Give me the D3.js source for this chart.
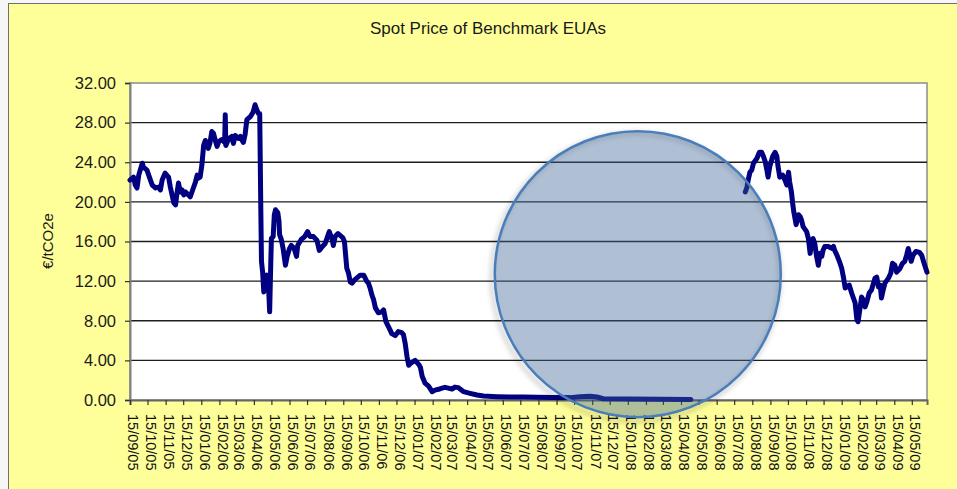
<!DOCTYPE html>
<html>
<head>
<meta charset="utf-8">
<script src="https://cdn.jsdelivr.net/npm/d3@7"></script>
<style>
    body { margin: 0; background: #ffffff; }
    #chart { width: 957px; height: 489px; }
</style>
</head>
<body>
<div id="chart"></div>
<script>
// Phase I spot prices (EUR/tCO2e)
const phaseIDates = [
    "2005-09-15", "2005-09-17", "2005-09-21", "2005-09-24", "2005-09-27", "2005-09-30", "2005-10-06", "2005-10-08",
    "2005-10-14", "2005-10-17", "2005-10-20", "2005-10-23", "2005-10-29", "2005-11-03", "2005-11-06", "2005-11-09",
    "2005-11-14", "2005-11-20", "2005-11-23", "2005-11-26", "2005-11-29", "2005-12-02", "2005-12-04", "2005-12-07",
    "2005-12-10", "2005-12-13", "2005-12-16", "2005-12-19", "2005-12-24", "2005-12-27", "2005-12-30", "2006-01-02",
    "2006-01-05", "2006-01-08", "2006-01-10", "2006-01-13", "2006-01-16", "2006-01-19", "2006-01-22", "2006-01-25",
    "2006-01-27", "2006-01-30", "2006-02-02", "2006-02-05", "2006-02-08", "2006-02-11", "2006-02-14", "2006-02-19",
    "2006-02-24", "2006-02-25", "2006-02-26", "2006-03-03", "2006-03-08", "2006-03-11", "2006-03-14", "2006-03-20",
    "2006-03-23", "2006-03-26", "2006-03-28", "2006-03-31", "2006-04-03", "2006-04-09", "2006-04-14", "2006-04-17",
    "2006-04-20", "2006-04-23", "2006-04-25", "2006-04-27", "2006-04-28", "2006-04-30", "2006-05-02", "2006-05-05",
    "2006-05-07", "2006-05-10", "2006-05-12", "2006-05-14", "2006-05-15", "2006-05-18", "2006-05-20", "2006-05-22",
    "2006-05-26", "2006-05-28", "2006-05-29", "2006-06-01", "2006-06-04", "2006-06-08", "2006-06-11", "2006-06-15",
    "2006-06-18", "2006-06-23", "2006-06-27", "2006-06-29", "2006-07-05", "2006-07-11", "2006-07-16", "2006-07-20",
    "2006-07-26", "2006-08-01", "2006-08-05", "2006-08-09", "2006-08-15", "2006-08-22", "2006-08-27", "2006-08-29",
    "2006-09-01", "2006-09-06", "2006-09-10", "2006-09-14", "2006-09-17", "2006-09-21", "2006-09-24", "2006-09-27",
    "2006-09-30", "2006-10-04", "2006-10-08", "2006-10-14", "2006-10-20", "2006-10-25", "2006-10-28", "2006-10-31",
    "2006-11-03", "2006-11-06", "2006-11-09", "2006-11-14", "2006-11-20", "2006-11-23", "2006-11-27", "2006-12-03",
    "2006-12-07", "2006-12-13", "2006-12-18", "2006-12-24", "2006-12-27", "2006-12-30", "2007-01-02", "2007-01-05",
    "2007-01-08", "2007-01-16", "2007-01-22", "2007-01-25", "2007-01-28", "2007-02-02", "2007-02-08", "2007-02-14",
    "2007-02-19", "2007-02-25", "2007-03-03", "2007-03-08", "2007-03-14", "2007-03-20", "2007-03-25", "2007-03-31",
    "2007-04-03", "2007-04-09", "2007-04-20", "2007-05-02", "2007-05-13", "2007-06-05", "2007-06-28", "2007-07-20",
    "2007-08-12", "2007-09-09", "2007-10-08", "2007-10-25", "2007-11-11", "2007-11-23", "2007-12-04", "2008-01-19",
    "2008-03-10", "2008-05-02"
];
const phaseIPrices = [
    22.2, 22.3, 22.5, 21.7, 21.4, 22.7, 23.9, 23.5,
    23.2, 22.7, 22.2, 21.7, 21.4, 21.5, 21.2, 22.2,
    22.9, 22.5, 21.5, 20.7, 19.9, 19.7, 20.7, 21.9,
    21.0, 21.2, 20.7, 21.0, 20.7, 20.5, 21.0, 21.5,
    22.0, 22.7, 22.4, 22.5, 23.7, 25.7, 26.2, 25.9,
    25.4, 26.0, 27.1, 26.9, 26.2, 25.6, 26.1, 26.3,
    26.0, 28.8, 25.7, 26.4, 26.6, 25.9, 26.7, 26.4,
    26.6, 26.2, 26.0, 26.8, 28.3, 28.6, 29.1, 29.8,
    29.3, 28.9, 28.9, 18.7, 14.0, 12.9, 10.9, 12.3,
    12.6, 11.6, 8.9, 14.0, 16.3, 16.5, 18.7, 19.2,
    18.9, 18.0, 16.7, 16.2, 15.3, 13.6, 14.5, 15.3,
    15.6, 15.3, 14.5, 15.6, 16.2, 16.5, 17.0, 16.5,
    16.5, 16.1, 15.1, 15.4, 15.8, 17.0, 16.2, 15.6,
    16.5, 16.8, 16.6, 16.4, 16.0, 13.3, 12.8, 11.9,
    11.8, 12.1, 12.3, 12.6, 12.6, 12.0, 11.8, 11.3,
    10.6, 10.1, 9.3, 8.8, 8.9, 9.1, 7.9, 7.2,
    6.7, 6.5, 6.9, 6.8, 6.6, 5.7, 4.4, 3.5,
    3.7, 4.0, 3.6, 3.3, 2.4, 1.7, 1.4, 0.84,
    1.0, 1.08, 1.2, 1.28, 1.2, 1.1, 1.3, 1.25,
    1.1, 0.84, 0.67, 0.5, 0.4, 0.34, 0.3, 0.3,
    0.27, 0.24, 0.24, 0.33, 0.38, 0.3, 0.13, 0.1,
    0.08, 0.05
];

// Phase II spot prices (EUR/tCO2e)
const phaseIIDates = [
    "2008-08-03", "2008-08-06", "2008-08-08", "2008-08-11", "2008-08-14", "2008-08-17", "2008-08-23", "2008-08-27",
    "2008-08-31", "2008-09-03", "2008-09-06", "2008-09-09", "2008-09-11", "2008-09-14", "2008-09-19", "2008-09-23",
    "2008-09-26", "2008-09-28", "2008-10-01", "2008-10-06", "2008-10-10", "2008-10-13", "2008-10-16", "2008-10-18",
    "2008-10-21", "2008-10-23", "2008-10-25", "2008-10-29", "2008-11-02", "2008-11-05", "2008-11-07", "2008-11-10",
    "2008-11-16", "2008-11-19", "2008-11-22", "2008-11-25", "2008-11-27", "2008-11-30", "2008-12-03", "2008-12-06",
    "2008-12-09", "2008-12-12", "2008-12-14", "2008-12-17", "2008-12-23", "2008-12-29", "2009-01-01", "2009-01-03",
    "2009-01-07", "2009-01-11", "2009-01-15", "2009-01-18", "2009-01-21", "2009-01-23", "2009-01-28", "2009-02-01",
    "2009-02-04", "2009-02-07", "2009-02-10", "2009-02-12", "2009-02-15", "2009-02-18", "2009-02-21", "2009-02-24",
    "2009-02-27", "2009-03-03", "2009-03-07", "2009-03-13", "2009-03-16", "2009-03-19", "2009-03-22", "2009-03-24",
    "2009-03-27", "2009-03-30", "2009-04-05", "2009-04-09", "2009-04-12", "2009-04-16", "2009-04-19", "2009-04-25",
    "2009-04-29", "2009-05-03", "2009-05-06", "2009-05-09", "2009-05-12", "2009-05-14", "2009-05-17", "2009-05-22",
    "2009-05-28", "2009-06-01", "2009-06-05", "2009-06-10"
];
const phaseIIPrices = [
    21.0, 21.5, 22.2, 23.0, 23.2, 23.9, 24.4, 25.0,
    25.0, 24.6, 24.1, 23.2, 22.5, 23.6, 24.6, 25.0,
    24.6, 23.6, 22.5, 22.7, 22.2, 21.7, 23.0, 22.0,
    21.0, 19.9, 19.0, 17.7, 18.7, 18.5, 18.2, 17.5,
    17.0, 16.3, 14.8, 16.0, 16.3, 15.8, 14.5, 13.6,
    14.8, 14.5, 15.1, 15.5, 15.5, 15.3, 15.5, 15.1,
    14.6, 14.0, 13.3, 12.4, 11.3, 11.4, 11.6, 10.8,
    10.3, 9.8, 8.1, 7.9, 9.1, 10.4, 10.1, 9.4,
    9.9, 10.8, 11.1, 12.3, 12.4, 11.4, 11.6, 10.3,
    11.1, 11.8, 12.3, 12.8, 13.8, 13.6, 12.9, 13.3,
    13.8, 14.0, 14.6, 15.3, 14.5, 14.0, 14.6, 15.0,
    14.9, 14.6, 13.8, 12.9
];

// Axis labels
const xTickLabels = [
    "15/09/05", "15/10/05", "15/11/05", "15/12/05", "15/01/06", "15/02/06", "15/03/06", "15/04/06",
    "15/05/06", "15/06/06", "15/07/06", "15/08/06", "15/09/06", "15/10/06", "15/11/06", "15/12/06",
    "15/01/07", "15/02/07", "15/03/07", "15/04/07", "15/05/07", "15/06/07", "15/07/07", "15/08/07",
    "15/09/07", "15/10/07", "15/11/07", "15/12/07", "15/01/08", "15/02/08", "15/03/08", "15/04/08",
    "15/05/08", "15/06/08", "15/07/08", "15/08/08", "15/09/08", "15/10/08", "15/11/08", "15/12/08",
    "15/01/09", "15/02/09", "15/03/09", "15/04/09", "15/05/09"
];
const yTicks = [0, 4, 8, 12, 16, 20, 24, 28, 32];
const axisStart = "2005-09-15";
const axisEnd = "2009-06-10";

// Highlight circle (centre in data terms)
const circleCentre = { date: "2008-02-01", value: 12.7 };

const parseDate = d3.timeParse("%Y-%m-%d");
const parseTick = d3.timeParse("%d/%m/%y");

const phaseI = phaseIDates.map((d, i) => ({ date: parseDate(d), value: phaseIPrices[i] }));
const phaseII = phaseIIDates.map((d, i) => ({ date: parseDate(d), value: phaseIIPrices[i] }));

const W = 957, H = 489;
const plot = { left: 130, right: 927, top: 83, bottom: 400 };
const font = "Arial, 'Liberation Sans', sans-serif";

const svg = d3.select("#chart").append("svg")
    .attr("width", W)
    .attr("height", H)
    .style("display", "block");

// Outer chart area
svg.append("rect")
    .attr("x", 0).attr("y", 0)
    .attr("width", W).attr("height", H)
    .attr("fill", "#f6f6f6");
svg.append("rect")
    .attr("x", 8.5).attr("y", 3.5)
    .attr("width", W + 20).attr("height", H + 20)
    .attr("fill", "#ffff99")
    .attr("stroke", "#6f6f6f")
    .attr("stroke-width", 1);

// Scales
const x = d3.scaleTime()
    .domain([parseDate(axisStart), parseDate(axisEnd)])
    .range([plot.left, plot.right]);

const y = d3.scaleLinear()
    .domain([0, 32])
    .range([plot.bottom, plot.top]);

// Plot area
svg.append("rect")
    .attr("x", plot.left).attr("y", plot.top)
    .attr("width", plot.right - plot.left)
    .attr("height", plot.bottom - plot.top)
    .attr("fill", "#ffffff")
    .attr("stroke", "#8c8c8c")
    .attr("stroke-width", 1.5);

// Gridlines
svg.append("g")
    .selectAll("line")
    .data(yTicks.filter(d => d > 0 && d < 32))
    .enter()
    .append("line")
    .attr("x1", plot.left).attr("x2", plot.right)
    .attr("y1", d => y(d)).attr("y2", d => y(d))
    .attr("stroke", "#1e1e1e")
    .attr("stroke-width", 1.3);

// Y axis
const yAxis = svg.append("g")
    .attr("transform", `translate(${plot.left},0)`)
    .call(d3.axisLeft(y).tickValues(yTicks).tickSize(5).tickPadding(9)
        .tickFormat(d3.format(".2f")));
yAxis.select(".domain").attr("stroke", "#808080").attr("stroke-width", 2);
yAxis.selectAll(".tick line").attr("stroke", "#333").attr("stroke-width", 1.2);
yAxis.selectAll("text")
    .style("font-family", font)
    .style("font-size", "16.5px")
    .attr("fill", "#1a1a1a");

// X axis
const tickDates = xTickLabels.map(parseTick);
const xAxis = svg.append("g")
    .attr("transform", `translate(0,${plot.bottom})`)
    .call(d3.axisBottom(x).tickValues(tickDates).tickSize(5)
        .tickFormat((d, i) => xTickLabels[i]));
xAxis.select(".domain").attr("stroke", "#666").attr("stroke-width", 2);
xAxis.selectAll(".tick line").attr("stroke", "#333").attr("stroke-width", 1.2);
xAxis.selectAll("text")
    .attr("transform", "translate(3,14) rotate(90)")
    .attr("x", 0).attr("y", 0).attr("dy", "0.35em")
    .style("text-anchor", "start")
    .style("font-family", font)
    .style("font-size", "14.5px")
    .attr("fill", "#111");

// Price lines
const line = d3.line()
    .x(d => x(d.date))
    .y(d => y(d.value))
    .curve(d3.curveLinear);

[phaseI, phaseII].forEach(series => {
    svg.append("path")
        .datum(series)
        .attr("fill", "none")
        .attr("stroke", "#000080")
        .attr("stroke-width", 5)
        .attr("stroke-linejoin", "round")
        .attr("stroke-linecap", "round")
        .attr("d", line);
});

// Soft halo outside the circle edge
const defs = svg.append("defs");
defs.append("filter")
    .attr("id", "blur")
    .attr("x", "-20%").attr("y", "-20%")
    .attr("width", "140%").attr("height", "140%")
    .append("feGaussianBlur")
    .attr("stdDeviation", 2.5);

const cx = x(parseDate(circleCentre.date));
const cy = y(circleCentre.value);

svg.append("circle")
    .attr("cx", cx - 2)
    .attr("cy", cy + 3)
    .attr("r", 144)
    .attr("fill", "none")
    .attr("stroke", "#000")
    .attr("stroke-opacity", 0.18)
    .attr("stroke-width", 4)
    .attr("filter", "url(#blur)");

// Highlight circle
svg.append("circle")
    .attr("cx", cx)
    .attr("cy", cy)
    .attr("r", 143)
    .attr("fill", "#3c6496")
    .attr("fill-opacity", 0.41)
    .attr("stroke", "#4a7ebb")
    .attr("stroke-width", 2.5);

// Title
svg.append("text")
    .attr("x", 488)
    .attr("y", 34)
    .attr("text-anchor", "middle")
    .style("font-family", font)
    .style("font-size", "17px")
    .attr("fill", "#1a1a1a")
    .text("Spot Price of Benchmark EUAs");

// Y axis title
svg.append("text")
    .attr("transform", "translate(53,241) rotate(-90)")
    .attr("text-anchor", "middle")
    .style("font-family", font)
    .style("font-size", "15px")
    .attr("fill", "#1a1a1a")
    .text("€/tCO2e");
</script>
</body>
</html>
